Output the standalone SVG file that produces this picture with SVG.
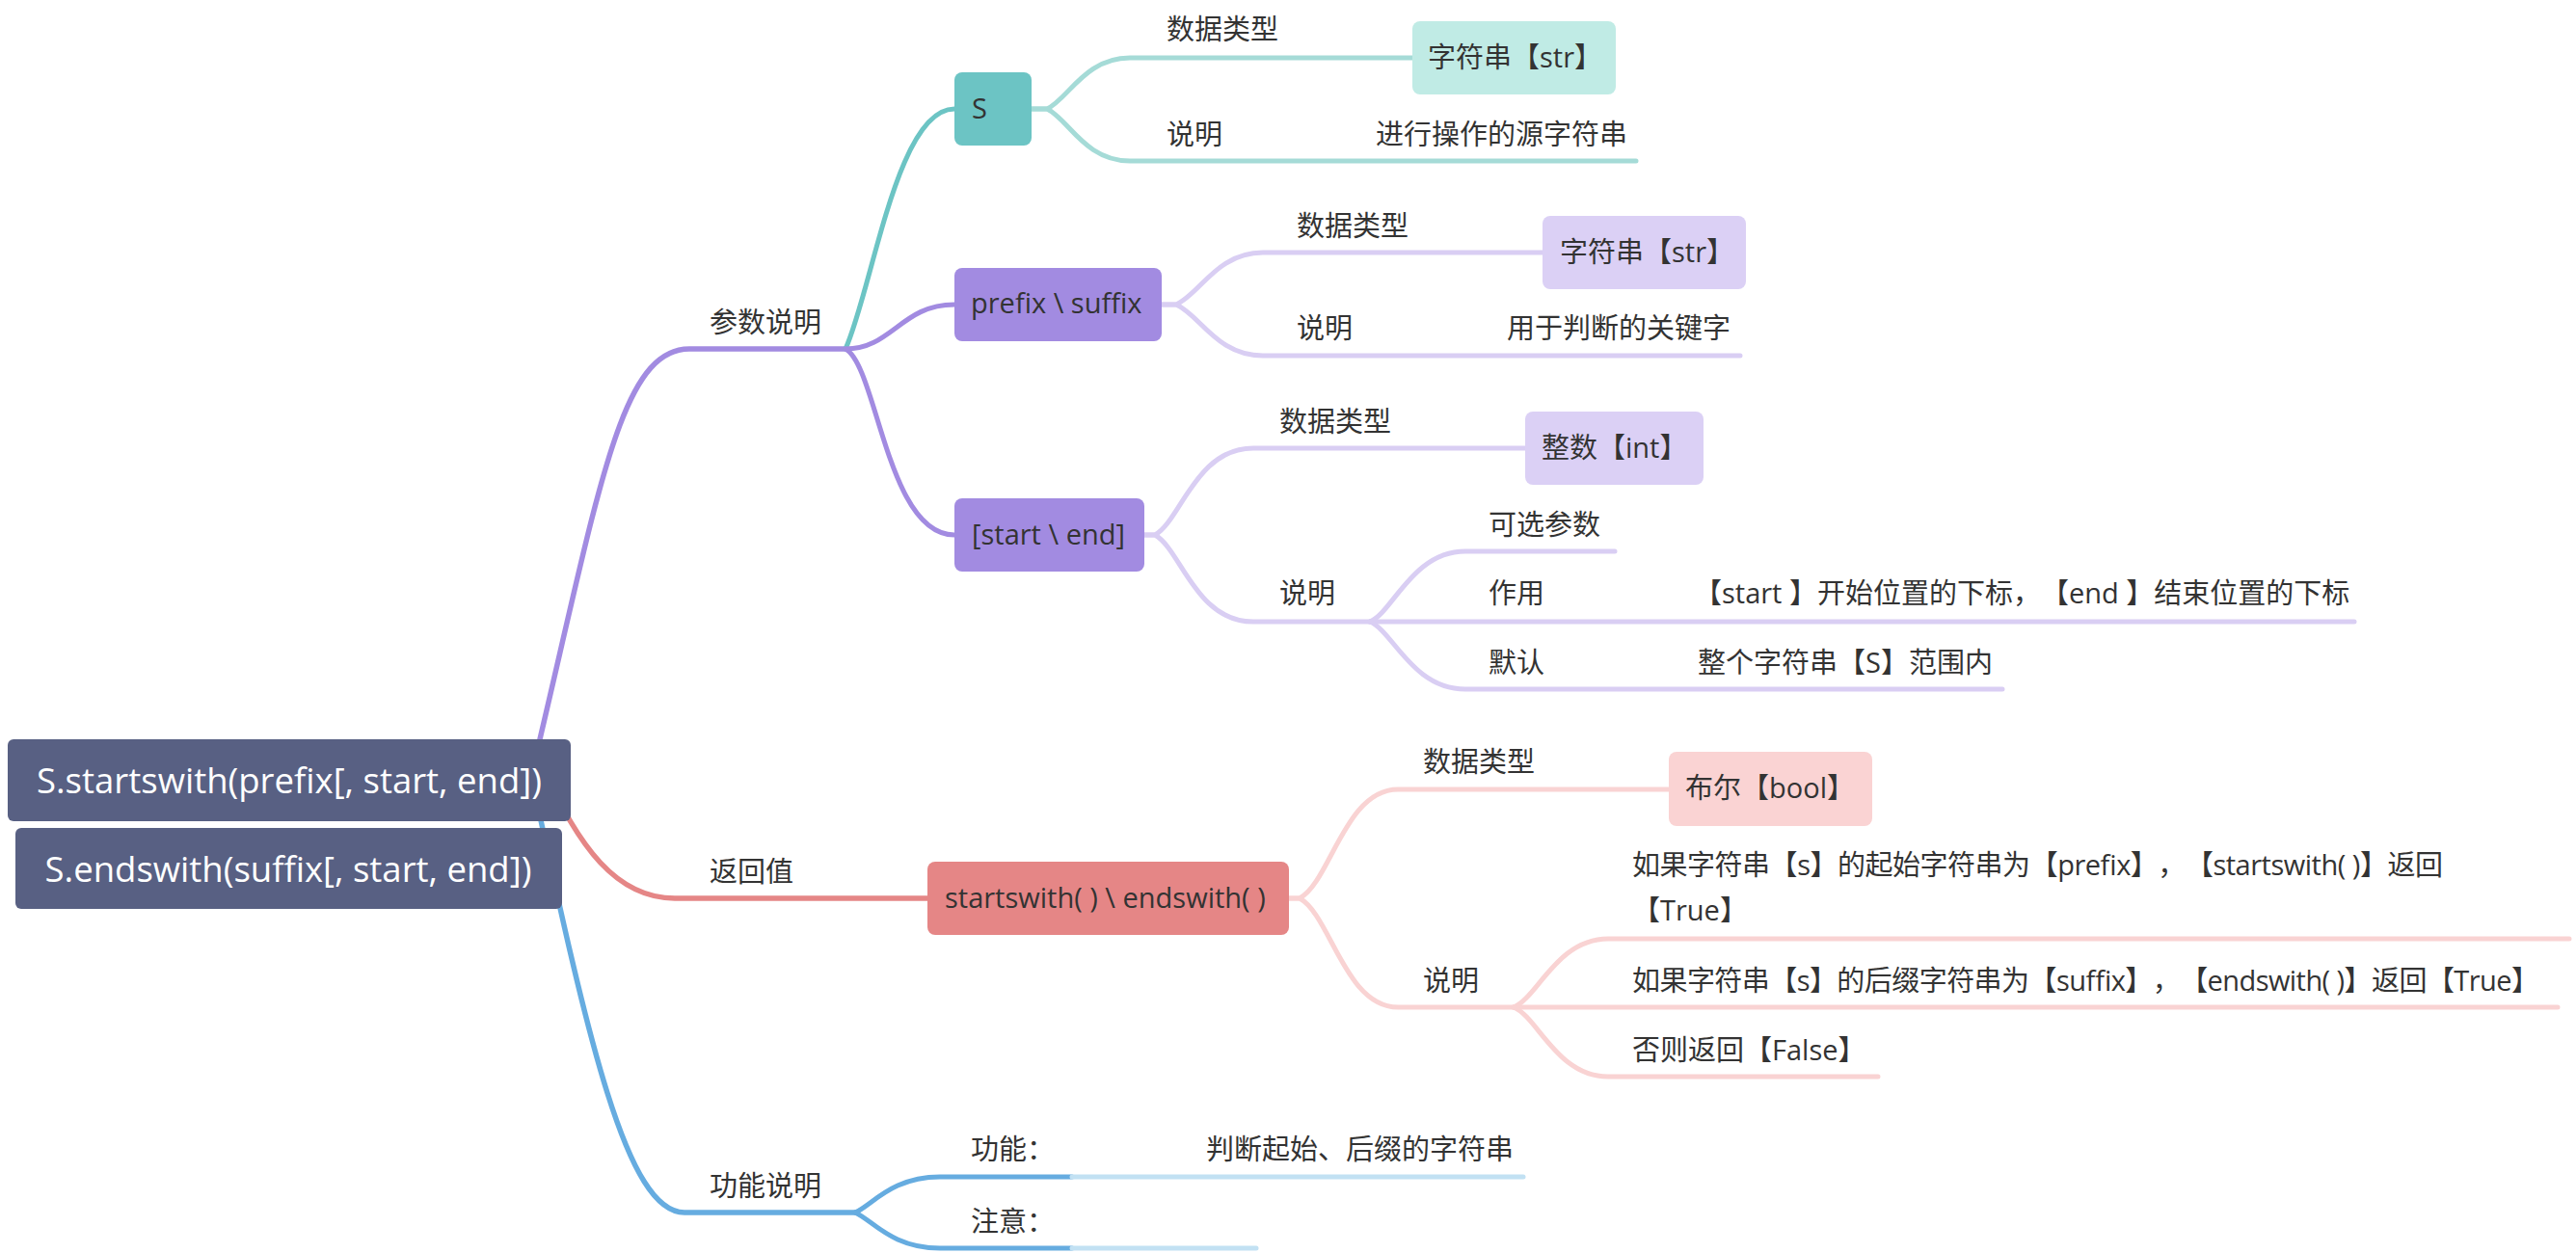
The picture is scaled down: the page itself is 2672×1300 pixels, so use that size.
<svg xmlns="http://www.w3.org/2000/svg" width="2672" height="1300" viewBox="0 0 2672 1300">
<defs>
<style>
.t{font-family:"Open Sans","Noto Sans CJK SC",sans-serif;font-size:29px;fill:#333333;text-spacing-trim:space-all}
.rt{font-family:"Open Sans","Noto Sans CJK SC",sans-serif;font-size:36.5px;fill:#ffffff;text-anchor:middle}
.c{fill:none;stroke-linecap:round;stroke-linejoin:round}
.l1{stroke-width:5.5}
.l2{stroke-width:5}
.pu{stroke:#A28BE1}
.te{stroke:#6CC4C4}
.re{stroke:#E58686}
.bl{stroke:#66ACE0}
.lte{stroke:#A5DBD7}
.lpu{stroke:#D9CEF3}
.lre{stroke:#F9D3D3}
.lbl{stroke:#C2E1F3}
</style>
</defs>
<rect width="2672" height="1300" fill="#ffffff"/>
<g id="connectors">
<path class="c l1 pu" d="M545 830 C620 520 640 362 715 362 L877 362"/>
<path class="c l1 re" d="M560 790 C600 880 640 932 700 932 L963 932"/>
<path class="c l1 bl" d="M550 800 C610 1080 650 1258 710 1258 L887 1258"/>
<path class="c l2 te" d="M877 362 C905 300 930 113 990 113"/>
<path class="c l2 pu" d="M877 362 C925 362 935 316 990 316"/>
<path class="c l2 pu" d="M877 362 C910 380 920 555 990 555"/>
<path class="c l2 bl" d="M887 1258 C905 1250 925 1221 975 1221 L1112 1221"/>
<path class="c l2 bl" d="M887 1258 C905 1266 925 1295 975 1295 L1112 1295"/>
<path class="c l2 lbl" d="M1112 1221 L1580 1221"/>
<path class="c l2 lbl" d="M1112 1295 L1303 1295"/>
<path class="c l2 lte" d="M1070 113 L1086 113 C1108 103 1125 60 1172 60 L1465 60"/>
<path class="c l2 lte" d="M1070 113 L1086 113 C1108 123 1125 167 1172 167 L1697 167"/>
<path class="c l2 lpu" d="M1205 316 L1220 316 C1245 305 1262 262 1310 262 L1600 262"/>
<path class="c l2 lpu" d="M1205 316 L1220 316 C1245 327 1262 369 1310 369 L1805 369"/>
<path class="c l2 lpu" d="M1187 555 L1198 555 C1225 540 1240 465 1300 465 L1582 465"/>
<path class="c l2 lpu" d="M1187 555 L1198 555 C1225 570 1240 645 1300 645 L1421 645"/>
<path class="c l2 lpu" d="M1421 645 C1445 635 1465 572 1520 572 L1675 572"/>
<path class="c l2 lpu" d="M1421 645 L2442 645"/>
<path class="c l2 lpu" d="M1421 645 C1445 655 1465 715 1520 715 L2077 715"/>
<path class="c l2 lre" d="M1337 932 L1348 932 C1380 915 1395 819 1450 819 L1731 819"/>
<path class="c l2 lre" d="M1337 932 L1348 932 C1380 949 1395 1045 1450 1045 L1570 1045"/>
<path class="c l2 lre" d="M1570 1045 C1595 1035 1615 974 1668 974 L2665 974"/>
<path class="c l2 lre" d="M1570 1045 L2653 1045"/>
<path class="c l2 lre" d="M1570 1045 C1595 1055 1615 1117 1668 1117 L1948 1117"/>
</g>
<g id="root1"><rect x="8" y="767" width="584" height="85" rx="6" fill="#586083"/><text class="rt" x="300" y="823">S.startswith(prefix[, start, end])</text></g>
<g id="root2"><rect x="16" y="859" width="567" height="84" rx="6" fill="#586083"/><text class="rt" x="299" y="915">S.endswith(suffix[, start, end])</text></g>
<g id="n-params"><text class="t" x="736" y="345">参数说明</text></g>
<g id="n-return"><text class="t" x="736" y="915">返回值</text></g>
<g id="n-func"><text class="t" x="736" y="1241">功能说明</text></g>
<g id="n-S"><rect x="990" y="75" width="80" height="76" rx="8" fill="#6CC4C4"/><text class="t" x="1008" y="123">S</text></g>
<g id="n-prefix"><rect x="990" y="278" width="215" height="76" rx="8" fill="#A28BE1"/><text class="t" x="1007" y="325">prefix \ suffix</text></g>
<g id="n-startend"><rect x="990" y="517" width="197" height="76" rx="8" fill="#A28BE1"/><text class="t" x="1008" y="565">[start \ end]</text></g>
<g id="n-S-type"><text class="t" x="1210" y="41">数据类型</text></g>
<g id="n-S-str"><rect x="1465" y="22" width="211" height="76" rx="8" fill="#C0EBE5"/><text class="t" x="1481" y="70">字符串【str】</text></g>
<g id="n-S-desc"><text class="t" x="1210" y="150">说明</text></g>
<g id="n-S-desc-v"><text class="t" x="1427" y="150">进行操作的源字符串</text></g>
<g id="n-P-type"><text class="t" x="1345" y="245">数据类型</text></g>
<g id="n-P-str"><rect x="1600" y="224" width="211" height="76" rx="8" fill="#DBD0F5"/><text class="t" x="1618" y="272">字符串【str】</text></g>
<g id="n-P-desc"><text class="t" x="1345" y="351">说明</text></g>
<g id="n-P-desc-v"><text class="t" x="1563" y="351">用于判断的关键字</text></g>
<g id="n-SE-type"><text class="t" x="1327" y="448">数据类型</text></g>
<g id="n-SE-int"><rect x="1582" y="427" width="185" height="76" rx="8" fill="#DBD0F5"/><text class="t" x="1599" y="475">整数【int】</text></g>
<g id="n-SE-desc"><text class="t" x="1327" y="626">说明</text></g>
<g id="n-SE-opt"><text class="t" x="1544" y="555">可选参数</text></g>
<g id="n-SE-use"><text class="t" x="1544" y="626">作用</text></g>
<g id="n-SE-use-v"><text class="t" x="1757" y="626">【start 】开始位置的下标，【end 】结束位置的下标</text></g>
<g id="n-SE-def"><text class="t" x="1544" y="698">默认</text></g>
<g id="n-SE-def-v"><text class="t" x="1761" y="698">整个字符串【S】范围内</text></g>
<g id="n-ret"><rect x="962" y="894" width="375" height="76" rx="8" fill="#E58686"/><text class="t" x="980" y="942">startswith( ) \ endswith( )</text></g>
<g id="n-R-type"><text class="t" x="1476" y="801">数据类型</text></g>
<g id="n-R-bool"><rect x="1731" y="780" width="211" height="77" rx="8" fill="#FAD3D3"/><text class="t" x="1748" y="828">布尔【bool】</text></g>
<g id="n-R-desc"><text class="t" x="1476" y="1028">说明</text></g>
<g id="n-R-d1"><text class="t" x="1693" y="908" textLength="841" lengthAdjust="spacing">如果字符串【s】的起始字符串为【prefix】，【startswith( )】返回</text><text class="t" x="1693" y="955">【True】</text></g>
<g id="n-R-d2"><text class="t" x="1693" y="1028" textLength="941" lengthAdjust="spacing">如果字符串【s】的后缀字符串为【suffix】，【endswith( )】返回【True】</text></g>
<g id="n-R-d3"><text class="t" x="1693" y="1100">否则返回【False】</text></g>
<g id="n-F-func"><text class="t" x="1007" y="1203">功能：</text></g>
<g id="n-F-func-v"><text class="t" x="1251" y="1203">判断起始、后缀的字符串</text></g>
<g id="n-F-note"><text class="t" x="1007" y="1278">注意：</text></g>
</svg>
